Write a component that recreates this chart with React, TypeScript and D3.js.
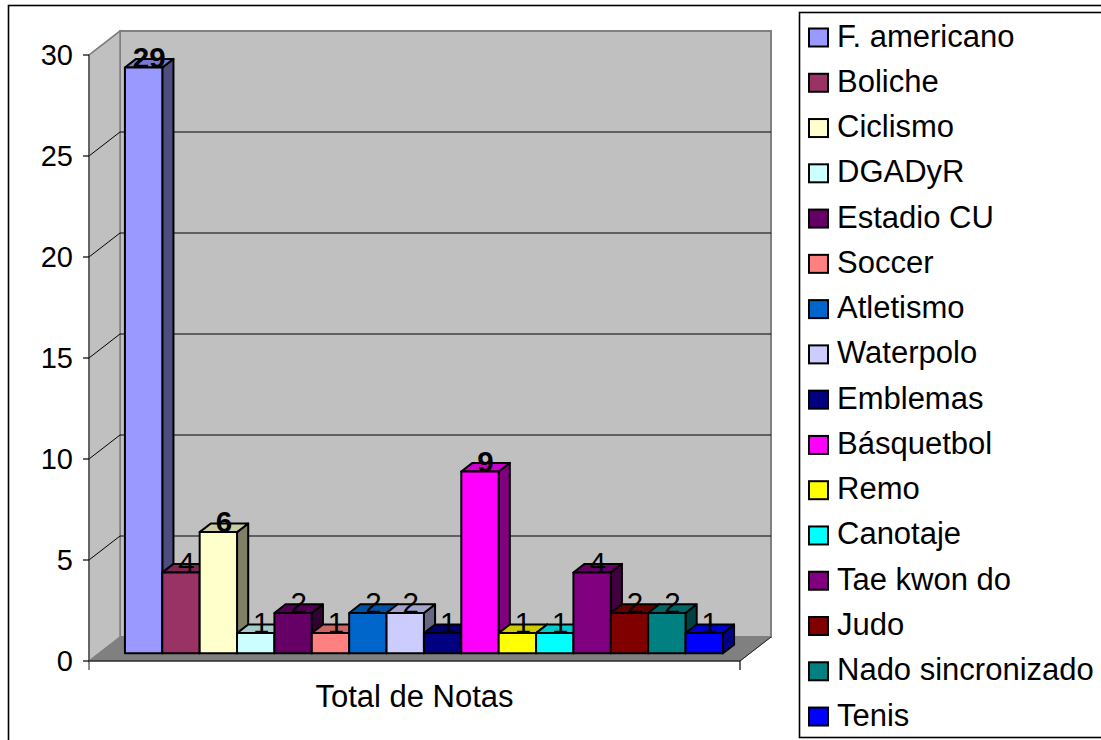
import React from 'react';
import * as d3 from 'd3';

const categories = [
  'F. americano', 'Boliche', 'Ciclismo', 'DGADyR', 'Estadio CU', 'Soccer',
  'Atletismo', 'Waterpolo', 'Emblemas', 'Básquetbol', 'Remo', 'Canotaje',
  'Tae kwon do', 'Judo', 'Nado sincronizado', 'Tenis',
];
const values = [29, 4, 6, 1, 2, 1, 2, 2, 1, 9, 1, 1, 4, 2, 2, 1];
const colors = [
  '#9999FF', '#993366', '#FFFFCC', '#CCFFFF', '#660066', '#FF8080',
  '#0066CC', '#CCCCFF', '#000080', '#FF00FF', '#FFFF00', '#00FFFF',
  '#800080', '#800000', '#008080', '#0000FF',
];
const boldLabelCategories = ['F. americano', 'Ciclismo', 'Básquetbol'];
const yTicks = [0, 5, 10, 15, 20, 25, 30];
const axisTitle = 'Total de Notas';

const FONT = "'Liberation Sans', Arial, sans-serif";

export default function App() {
  const W = 1101, H = 740;
  // 3D frame
  const FX0 = 89, FX1 = 740;
  const DX = 31, DY = 24;
  const D0 = 0.32, D1 = 0.68;
  const y = d3.scaleLinear().domain([0, 30]).range([661, 55]);
  const x = d3.scaleBand<string>().domain(categories).range([115, 713]).padding(0);
  const P = (px: number, py: number, d: number): [number, number] => [px + DX * d, py - DY * d];
  const pts = (arr: [number, number][]) => arr.map((p) => p.join(',')).join(' ');
  const shade = (c: string, k: number) => {
    const r = d3.rgb(c);
    return d3.rgb(r.r * k, r.g * k, r.b * k).formatHex();
  };

  const y0 = y(0), yTop = y(30);
  const backX0 = FX0 + DX, backX1 = FX1 + DX;

  const legendTop = 37.5, legendStep = 45.27;

  return (
    <div style={{ position: 'absolute', left: 0, top: 0 }}>
      <svg width={W} height={H} style={{ display: 'block', background: '#fff' }} fontFamily={FONT}>
        <rect x={0} y={0} width={W} height={H} fill="#fff" />
        {/* outer chart frame */}
        <rect x={8.5} y={5.5} width={W + 20} height={H + 20} fill="none" stroke="#000" strokeWidth={1.6} />

        {/* back wall */}
        <rect x={backX0} y={yTop - DY} width={backX1 - backX0} height={y0 - yTop} fill="#C0C0C0" stroke="#808080" strokeWidth={2} />
        {/* side wall */}
        <polygon points={pts([[FX0, yTop], P(FX0, yTop, 1), P(FX0, y0, 1), [FX0, y0]])} fill="#C0C0C0" stroke="#808080" strokeWidth={1.5} />
        {/* floor */}
        <polygon points={pts([[FX0, y0], P(FX0, y0, 1), P(FX1, y0, 1), [FX1, y0]])} fill="#808080" stroke="#808080" strokeWidth={1} />
        <line x1={FX1} y1={y0} x2={backX1} y2={y0 - DY} stroke="#222" strokeWidth={1} />

        {/* gridlines */}
        {yTicks.filter((t) => t > 0).map((t) => (
          <g key={'g' + t}>
            {t < 30 && <line x1={backX0} y1={y(t) - DY} x2={backX1} y2={y(t) - DY} stroke="#000" strokeWidth={1} />}
            <line x1={FX0} y1={y(t)} x2={backX0} y2={y(t) - DY} stroke={t < 30 ? '#000' : '#808080'} strokeWidth={t < 30 ? 1 : 1.5} />
          </g>
        ))}

        {/* axes */}
        <line x1={FX0} y1={y0} x2={FX1} y2={y0} stroke="#000" strokeWidth={1.2} />
        <line x1={FX0} y1={yTop} x2={FX0} y2={y0 + 9} stroke="#444" strokeWidth={1.2} />
        <line x1={FX1} y1={y0} x2={FX1} y2={y0 + 9} stroke="#000" strokeWidth={1.2} />
        {yTicks.map((t) => (
          <g key={'t' + t}>
            <line x1={FX0 - 6} y1={y(t)} x2={FX0} y2={y(t)} stroke="#000" strokeWidth={1.2} />
            <text x={73} y={y(t) + 10} fontSize={29} textAnchor="end" fill="#000">{t}</text>
          </g>
        ))}

        {/* bars */}
        {categories.map((c, i) => {
          const v = values[i];
          const bx0 = x(c)!;
          const bx1 = bx0 + x.bandwidth();
          const yv = y(v);
          const front = [P(bx0, yv, D0), P(bx1, yv, D0), P(bx1, y0, D0), P(bx0, y0, D0)];
          const top = [P(bx0, yv, D0), P(bx1, yv, D0), P(bx1, yv, D1), P(bx0, yv, D1)];
          const side = [P(bx1, yv, D0), P(bx1, yv, D1), P(bx1, y0, D1), P(bx1, y0, D0)];
          return (
            <g key={c} stroke="#000" strokeWidth={2} strokeLinejoin="round">
              <polygon points={pts(side)} fill={shade(colors[i], 0.5)} />
              <polygon points={pts(top)} fill={shade(colors[i], 0.8)} />
              <polygon points={pts(front)} fill={colors[i]} />
            </g>
          );
        })}

        {/* value labels */}
        {categories.map((c, i) => {
          const v = values[i];
          const cx = x(c)! + x.bandwidth() / 2;
          const [lx] = P(cx, y(v), 0.5);
          const [, ly] = P(cx, y(v), D0);
          return (
            <text key={'l' + c} x={lx} y={ly} fontSize={29.5} textAnchor="middle" fill="#000"
              fontWeight={boldLabelCategories.includes(c) ? 'bold' : 'normal'}>{v}</text>
          );
        })}

        {/* category axis title */}
        <text x={(FX0 + FX1) / 2} y={707} fontSize={31} textAnchor="middle" fill="#000">{axisTitle}</text>

        {/* legend */}
        <rect x={799.5} y={12.5} width={W} height={725} fill="#fff" stroke="#000" strokeWidth={1.6} />
        {categories.map((c, i) => {
          const cy = legendTop + i * legendStep;
          return (
            <g key={'lg' + c}>
              <rect x={809} y={cy - 9} width={19} height={18} fill={colors[i]} stroke="#000" strokeWidth={2} />
              <text x={837} y={cy + 9} fontSize={31} fill="#000">{c}</text>
            </g>
          );
        })}
      </svg>
    </div>
  );
}
